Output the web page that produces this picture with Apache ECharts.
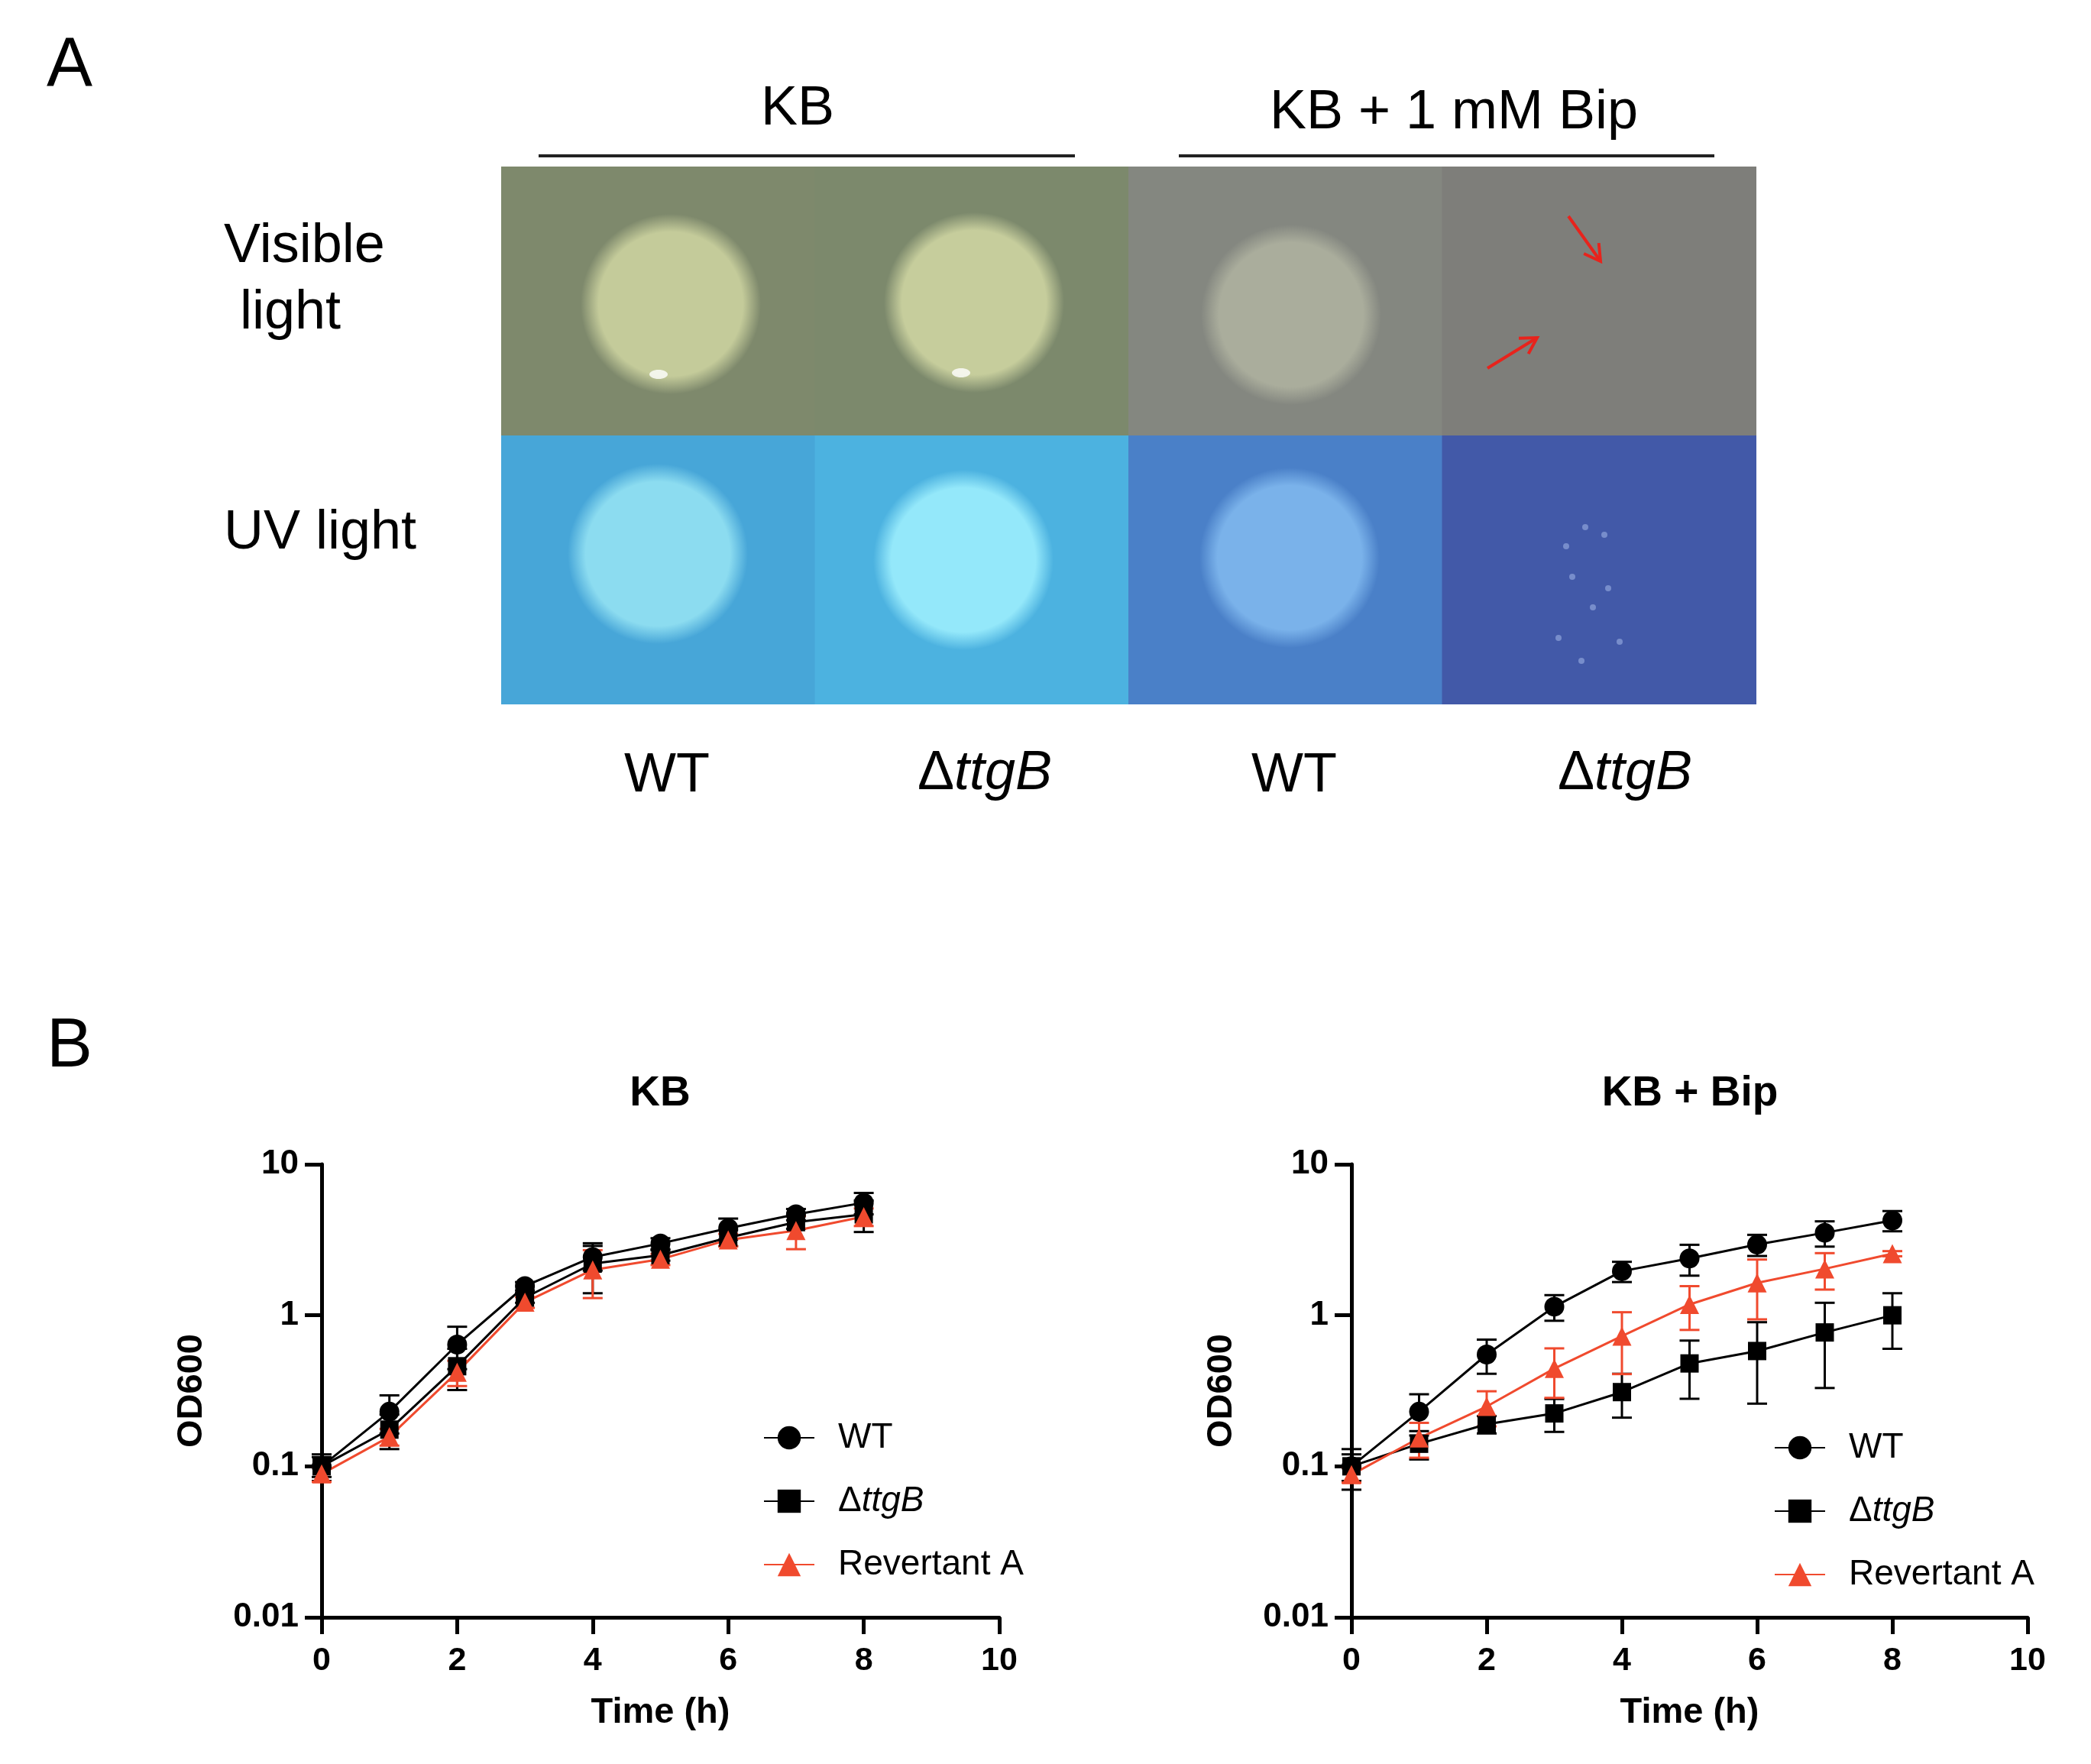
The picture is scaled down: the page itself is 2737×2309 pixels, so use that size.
<!DOCTYPE html>
<html>
<head>
<meta charset="utf-8">
<script src="https://cdn.jsdelivr.net/npm/echarts@6/dist/echarts.min.js"></script>
<style>
  html, body { margin: 0; padding: 0; background: #fff; }
  #main { width: 2737px; height: 2309px; }
</style>
</head>
<body>
<div id="main"></div>
<script>
// time points (h)
var hours = [0, 1, 2, 3, 4, 5, 6, 7, 8];
var xTicks = [0, 2, 4, 6, 8, 10];
var yTicks = [0.01, 0.1, 1, 10];
var seriesNames = ['WT', 'ΔttgB', 'Revertant A'];

// KB
var kbWT = [0.10, 0.23, 0.64, 1.56, 2.43, 2.99, 3.77, 4.66, 5.56];
var kbWTsd = [0.02, 0.065, 0.2, 0.1, 0.45, 0.25, 0.6, 0.4, 0.9];
var kbTtg = [0.10, 0.175, 0.46, 1.31, 2.2, 2.5, 3.27, 4.14, 4.66];
var kbTtgSd = [0.015, 0.045, 0.14, 0.1, 0.8, 0.2, 0.4, 0.4, 1.1];
var kbRev = [0.089, 0.157, 0.42, 1.22, 2.0, 2.35, 3.16, 3.64, 4.5];
var kbRevSd = [0.01, 0.02, 0.08, 0.1, 0.7, 0.2, 0.3, 0.9, 0.6];

// KB + Bip
var bipWT = [0.10, 0.23, 0.55, 1.14, 1.96, 2.38, 2.94, 3.52, 4.25];
var bipWTsd = [0.03, 0.07, 0.14, 0.22, 0.3, 0.55, 0.47, 0.67, 0.65];
var bipTtg = [0.10, 0.141, 0.19, 0.224, 0.31, 0.48, 0.58, 0.77, 1.0];
var bipTtgSd = [0.02, 0.03, 0.025, 0.055, 0.1, 0.2, 0.32, 0.44, 0.4];
var bipRev = [0.088, 0.154, 0.249, 0.444, 0.728, 1.18, 1.64, 2.03, 2.56];
var bipRevSd = [0.01, 0.04, 0.065, 0.16, 0.32, 0.38, 0.7, 0.55, 0.1];

var RED = '#f04a2e';
var FONT = "'Liberation Sans', Arial, Helvetica, sans-serif";

var myChart = echarts.init(document.getElementById('main'));

function pairs(ys) {
    return hours.map(function (h, i) { return [h, ys[i]]; });
}
function errRows(ys, sd) {
    return hours.map(function (h, i) {
        return [h, Math.max(ys[i] - sd[i], 0.0101), ys[i] + sd[i]];
    });
}

// error bars (drawn through the axes)
function errSeries(idx, ys, sd, color) {
    return {
        type: 'custom',
        xAxisIndex: idx, yAxisIndex: idx,
        z: 1,
        silent: true,
        data: errRows(ys, sd),
        renderItem: function (params, api) {
            var lo = api.coord([api.value(0), api.value(1)]);
            var hi = api.coord([api.value(0), api.value(2)]);
            var w = 13;
            var st = { stroke: color, lineWidth: 3 };
            return {
                type: 'group',
                children: [
                    { type: 'line', shape: { x1: lo[0], y1: lo[1], x2: hi[0], y2: hi[1] }, style: st },
                    { type: 'line', shape: { x1: hi[0] - w, y1: hi[1], x2: hi[0] + w, y2: hi[1] }, style: st },
                    { type: 'line', shape: { x1: lo[0] - w, y1: lo[1], x2: lo[0] + w, y2: lo[1] }, style: st }
                ]
            };
        }
    };
}

function lineSeries(idx, name, ys, symbol, size, color) {
    return {
        name: name,
        type: 'line',
        xAxisIndex: idx, yAxisIndex: idx,
        data: pairs(ys),
        symbol: symbol,
        symbolSize: size,
        showAllSymbol: true,
        z: 3,
        lineStyle: { color: color, width: 3 },
        itemStyle: { color: color, borderWidth: 0 }
    };
}

var axisLine = { show: true, lineStyle: { color: '#000', width: 5 } };
var axisTick = { show: true, length: 22, inside: false, lineStyle: { color: '#000', width: 5 } };

function xAxisCfg(idx) {
    return {
        gridIndex: idx, type: 'value', min: xTicks[0], max: xTicks[xTicks.length - 1], interval: 2,
        axisLine: axisLine, axisTick: axisTick, splitLine: { show: false },
        axisLabel: { color: '#000', fontFamily: FONT, fontWeight: 'bold', fontSize: 43, margin: 36 },
        name: 'Time (h)', nameLocation: 'middle', nameGap: 102,
        nameTextStyle: { color: '#000', fontFamily: FONT, fontWeight: 'bold', fontSize: 47 }
    };
}
function yAxisCfg(idx) {
    return {
        gridIndex: idx, type: 'log', logBase: 10, min: yTicks[0], max: yTicks[yTicks.length - 1],
        axisLine: axisLine, axisTick: axisTick, splitLine: { show: false }, minorTick: { show: false },
        axisLabel: {
            color: '#000', fontFamily: FONT, fontWeight: 'bold', fontSize: 44, margin: 30,
            formatter: function (v) { return String(+Number(v).toPrecision(1)); }
        },
        name: 'OD600', nameLocation: 'middle', nameGap: 146, nameRotate: 90,
        nameTextStyle: { color: '#000', fontFamily: FONT, fontWeight: 'bold', fontSize: 47 }
    };
}

function legendCfg(left, top) {
    return {
        orient: 'vertical', left: left, top: top,
        data: seriesNames,
        itemWidth: 66, itemHeight: 38, itemGap: 27,
        selectedMode: false,
        textStyle: {
            color: '#000', fontFamily: FONT, fontSize: 46, lineHeight: 56, padding: [0, 0, 0, 26],
            rich: {
                n: { fontFamily: FONT, fontSize: 46, color: '#000' },
                i: { fontFamily: FONT, fontSize: 46, fontStyle: 'italic', color: '#000' }
            }
        },
        formatter: function (name) {
            if (name === 'ΔttgB') return '{n|Δ}{i|ttgB}';
            return name;
        }
    };
}

// ---- panel A: photograph approximated with shapes ----
var photoX = 656, photoY = 218, cellW = 410.5, cellH = 352;
var cellBg = [
    ['#7e896c', '#7c896c', '#848780', '#7e7e7a'],
    ['#47a6d8', '#4cb2e0', '#4a80c8', '#4259a8']
];
var colony = [
    ['#c4cb9a', '#c6cd9c', '#aaad9c', null],
    ['#8cdcf0', '#94e8fa', '#7ab2ea', null]
];
var colonyPos = [
    [[878, 398], [1275, 396], [1690, 412]],
    [[861, 725], [1261, 733], [1688, 730]]
];

var graphics = [];
function txt(x, y, s, size, opts) {
    opts = opts || {};
    graphics.push({
        type: 'text', x: x, y: y, z: 10,
        style: {
            text: s, x: 0, y: 0, fill: '#000', font: (opts.weight || 'normal') + ' ' + size + 'px ' + FONT,
            textAlign: opts.align || 'center', textVerticalAlign: 'middle',
            rich: opts.rich
        }
    });
}

for (var r = 0; r < 2; r++) {
    for (var c = 0; c < 4; c++) {
        graphics.push({
            type: 'rect', z: 1,
            shape: { x: photoX + c * cellW, y: photoY + r * cellH, width: cellW + 1, height: cellH + (r === 0 ? 1 : 0) },
            style: { fill: cellBg[r][c] }
        });
        if (colony[r][c]) {
            var p = colonyPos[r][c];
            graphics.push({
                type: 'circle', z: 2,
                shape: { cx: p[0], cy: p[1], r: 118 },
                style: {
                    fill: {
                        type: 'radial', x: 0.5, y: 0.5, r: 0.5,
                        colorStops: [
                            { offset: 0, color: colony[r][c] },
                            { offset: 0.8, color: colony[r][c] },
                            { offset: 1, color: echarts.color.modifyAlpha(colony[r][c], 0) }
                        ]
                    }
                }
            });
        }
    }
}
// glints on the first two visible colonies
[[862, 490], [1258, 488]].forEach(function (g) {
    graphics.push({ type: 'ellipse', z: 3, shape: { cx: g[0], cy: g[1], rx: 12, ry: 6 }, style: { fill: 'rgba(255,255,255,0.8)' } });
});
// faint specks on the last UV cell
[[2075, 690], [2100, 700], [2058, 755], [2105, 770], [2085, 795], [2040, 835], [2120, 840], [2070, 865], [2050, 715]].forEach(function (s) {
    graphics.push({ type: 'circle', z: 3, shape: { cx: s[0], cy: s[1], r: 4 }, style: { fill: 'rgba(200,220,255,0.4)' } });
});
// red arrows
function arrow(x1, y1, x2, y2) {
    var dx = x2 - x1, dy = y2 - y1, L = Math.sqrt(dx * dx + dy * dy);
    var ux = dx / L, uy = dy / L, h = 24, a = Math.PI / 6;
    var w1 = [x2 - h * (ux * Math.cos(a) - uy * Math.sin(a)), y2 - h * (uy * Math.cos(a) + ux * Math.sin(a))];
    var w2 = [x2 - h * (ux * Math.cos(a) + uy * Math.sin(a)), y2 - h * (uy * Math.cos(a) - ux * Math.sin(a))];
    graphics.push({ type: 'line', z: 4, shape: { x1: x1, y1: y1, x2: x2, y2: y2 }, style: { stroke: '#e8231c', lineWidth: 4 } });
    graphics.push({ type: 'polyline', z: 4, shape: { points: [w1, [x2, y2], w2] }, style: { stroke: '#e8231c', lineWidth: 4, fill: null } });
}
arrow(2053, 283, 2095, 342);
arrow(1947, 482, 2012, 442);

// header lines
graphics.push({ type: 'line', z: 5, shape: { x1: 705, y1: 204, x2: 1407, y2: 204 }, style: { stroke: '#222', lineWidth: 4 } });
graphics.push({ type: 'line', z: 5, shape: { x1: 1543, y1: 204, x2: 2244, y2: 204 }, style: { stroke: '#222', lineWidth: 4 } });

// panel texts
txt(91, 87, 'A', 90);
txt(1044, 143, 'KB', 72);
txt(1903, 148, 'KB + 1 mM Bip', 72);
txt(293, 323, 'Visible', 72, { align: 'left' });
txt(314, 410, 'light', 72, { align: 'left' });
txt(293, 698, 'UV light', 72, { align: 'left' });
var bottomRich = {
    n: { font: 'normal 72px ' + FONT, fill: '#000' },
    i: { font: 'italic 72px ' + FONT, fill: '#000' }
};
txt(873, 1016, 'WT', 72);
txt(1289, 1013, '{n|Δ}{i|ttgB}', 72, { rich: bottomRich });
txt(1694, 1016, 'WT', 72);
txt(2127, 1013, '{n|Δ}{i|ttgB}', 72, { rich: bottomRich });
txt(91, 1371, 'B', 90);
txt(864, 1432, 'KB', 55, { weight: 'bold' });
txt(2212, 1432, 'KB + Bip', 55, { weight: 'bold' });

var option = {
    backgroundColor: '#fff',
    animation: false,
    grid: [
        { left: 421, top: 1524, width: 887, height: 593 },
        { left: 1769, top: 1524, width: 885, height: 593 }
    ],
    xAxis: [xAxisCfg(0), xAxisCfg(1)],
    yAxis: [yAxisCfg(0), yAxisCfg(1)],
    legend: [legendCfg(994, 1849), legendCfg(2317, 1862)],
    graphic: graphics,
    series: [
        errSeries(0, kbWT, kbWTsd, '#000'),
        errSeries(0, kbTtg, kbTtgSd, '#000'),
        errSeries(0, kbRev, kbRevSd, RED),
        lineSeries(0, 'WT', kbWT, 'circle', 26, '#000'),
        lineSeries(0, 'ΔttgB', kbTtg, 'rect', 24, '#000'),
        lineSeries(0, 'Revertant A', kbRev, 'triangle', 25, RED),

        errSeries(1, bipWT, bipWTsd, '#000'),
        errSeries(1, bipTtg, bipTtgSd, '#000'),
        errSeries(1, bipRev, bipRevSd, RED),
        lineSeries(1, 'WT', bipWT, 'circle', 26, '#000'),
        lineSeries(1, 'ΔttgB', bipTtg, 'rect', 24, '#000'),
        lineSeries(1, 'Revertant A', bipRev, 'triangle', 25, RED)
    ]
};

myChart.setOption(option);
</script>
</body>
</html>
